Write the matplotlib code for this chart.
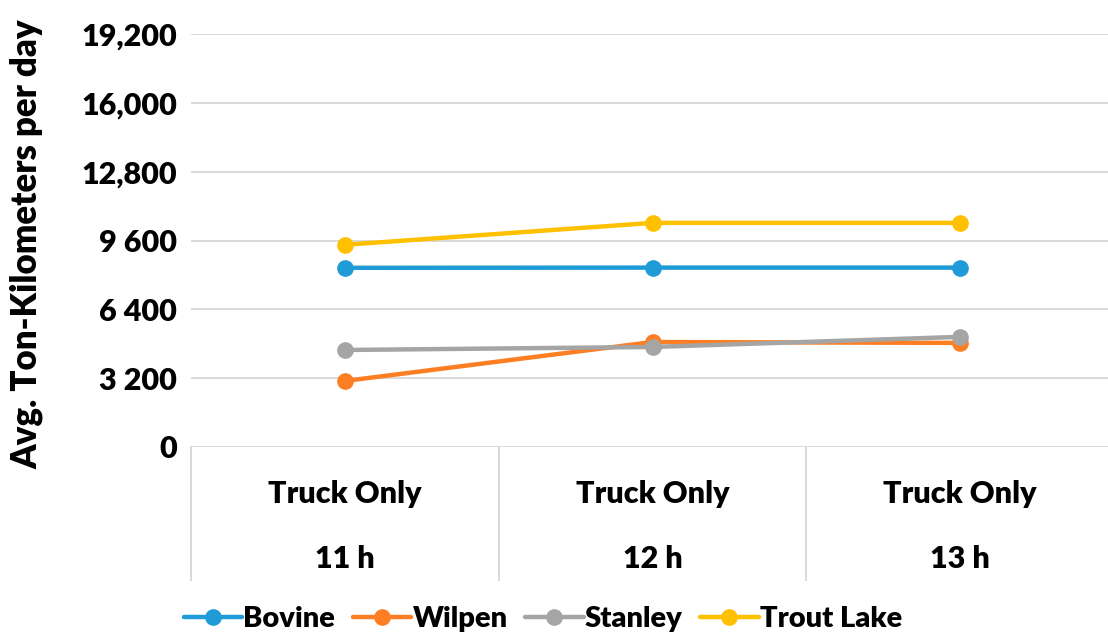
import matplotlib
matplotlib.use("Agg")
import matplotlib.pyplot as plt
import matplotlib.transforms as mtransforms

# values
hours = ["11 h", "12 h", "13 h"]
modes = ["Truck Only", "Truck Only", "Truck Only"]
bovine = [8330, 8340, 8340]
wilpen = [3070, 4880, 4840]
stanley = [4510, 4650, 5120]
trout_lake = [9400, 10420, 10420]

yticks = [0, 3200, 6400, 9600, 12800, 16000, 19200]
ytick_labels = ["0", "3 200", "6 400", "9 600", "12,800", "16,000", "19,200"]

series = [
    ("Bovine", bovine, "#1f9bd8"),
    ("Wilpen", wilpen, "#fd7e23"),
    ("Stanley", stanley, "#a5a5a5"),
    ("Trout Lake", trout_lake, "#ffc000"),
]

plt.rcParams['font.family'] = ['Lato', 'DejaVu Sans']
W = 'heavy'

fig = plt.figure(figsize=(11.08, 6.35), dpi=100)
ax = fig.add_axes([191 / 1108, 1 - 447 / 635, 923 / 1108, 413 / 635])

x = list(range(len(hours)))
for name, vals, col in series:
    ax.plot(x, vals, color=col, lw=3.2, marker='o', ms=11, label=name,
            solid_capstyle='round')

ax.set_xlim(-0.5, 2.5)
ax.set_ylim(0, 19200)
ax.set_yticks(yticks)
ax.set_yticklabels(ytick_labels, fontsize=22, fontweight=W)
ax.tick_params(axis='y', length=0, pad=10)
ax.set_xticks([])
ax.grid(axis='y', color='#d9d9d9', lw=1.4)
ax.set_axisbelow(True)
for s in ax.spines.values():
    s.set_visible(False)

ax.set_ylabel("Avg. Ton-Kilometers per day", fontsize=25, fontweight=W)
ax.yaxis.set_label_coords(-0.16, 0.49)

# category boxes under the plot
trans = mtransforms.blended_transform_factory(ax.transData, ax.transAxes)
for xb in [-0.5, 0.5, 1.5, 2.5]:
    ax.plot([xb, xb], [0, -0.322], transform=trans, color='#d9d9d9', lw=1.4,
            clip_on=False)
for i in x:
    ax.text(i, -0.115, modes[i], transform=trans, ha='center', va='center',
            fontsize=22, fontweight=W)
    ax.text(i, -0.27, hours[i], transform=trans, ha='center', va='center',
            fontsize=22, fontweight=W)

leg = fig.legend(loc='center', bbox_to_anchor=(0.49, 1 - 619 / 635), ncol=4,
                 frameon=False, fontsize=21, handlelength=2.0,
                 handletextpad=0.05, columnspacing=0.6, borderaxespad=0)
for t in leg.get_texts():
    t.set_fontweight(W)

fig.savefig("out.png", dpi=100)
